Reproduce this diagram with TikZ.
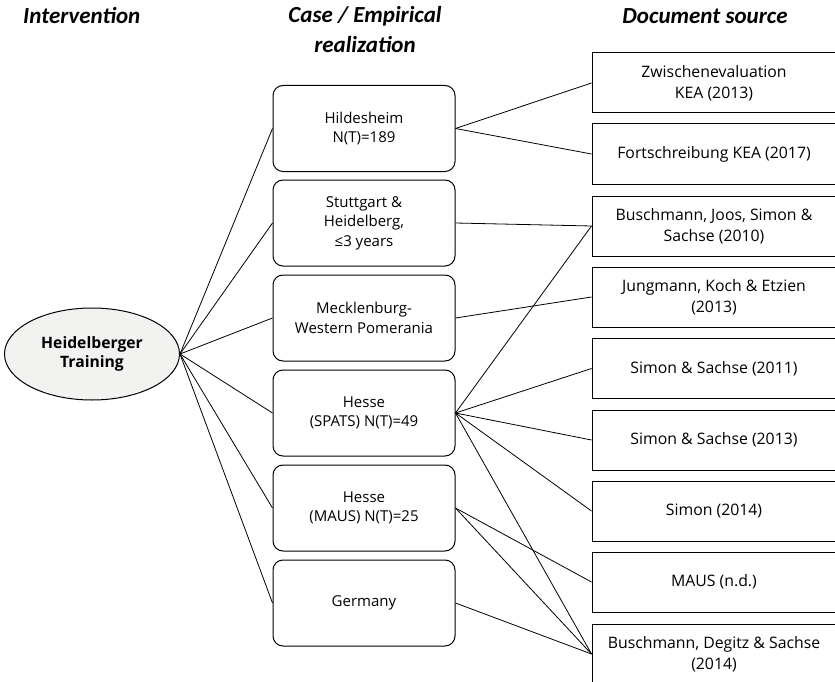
\documentclass[tikz,border=0pt]{standalone}
\usepackage{fontspec}
\setmainfont{Open Sans}
\newfontfamily\headfont{Carlito}
\usetikzlibrary{shapes.geometric}
\definecolor{ellfill}{RGB}{242,243,240}
\tikzstyle{heading} = [font=\headfont\bfseries\itshape\fontsize{23}{30}\selectfont, align=center, inner sep=0pt]
\tikzstyle{intervention} = [ellipse, minimum width=175pt, minimum height=92pt, draw=black, line width=1pt, fill=ellfill, align=center, font=\bfseries\fontsize{15.7}{19}\selectfont]
\tikzstyle{case} = [rectangle, rounded corners=10pt, minimum width=182pt, minimum height=86pt, draw=black, line width=1pt, align=center, font=\fontsize{15}{19.5}\selectfont]
\tikzstyle{source} = [rectangle, minimum width=244pt, minimum height=60pt, draw=black, line width=1pt, align=center, font=\fontsize{15.8}{20.5}\selectfont]
\tikzstyle{link} = [line width=0.8pt]

\begin{document}
\begin{tikzpicture}[x=1pt, y=-1pt]
      \useasboundingbox (0,0) rectangle (835,682);

      % Column headings
      \node (hint) [heading, anchor=west] at (23,16) {Intervention};
      \node (hcase) [heading] at (365,30) {Case / Empirical\\realization};
      \node (hsrc) [heading] at (705,16) {Document source};

      \node (heid) [intervention] at (92,354) {Heidelberger\\Training};

      % Cases
      \node (hild) [case] at (364,128.5) {Hildesheim\\N(T)=189};
      \node (stutt) [case] at (364,223) {Stuttgart \&\\Heidelberg,\\≤3 years};
      \node (meck) [case] at (364,318) {Mecklenburg-\\Western Pomerania};
      \node (spats) [case] at (364,413) {Hesse\\(SPATS) N(T)=49};
      \node (maus) [case] at (364,508) {Hesse\\(MAUS) N(T)=25};
      \node (germ) [case] at (364,603) {Germany};

      % Document sources
      \node (zwis) [source] at (714,83) {Zwischenevaluation\\KEA (2013)};
      \node (fort) [source] at (714,154) {Fortschreibung KEA (2017)};
      \node (bjss) [source] at (714,226) {Buschmann, Joos, Simon \&\\Sachse (2010)};
      \node (jung) [source] at (714,297) {Jungmann, Koch \& Etzien\\(2013)};
      \node (ss11) [source] at (714,368.5) {Simon \& Sachse (2011)};
      \node (ss13) [source] at (714,440) {Simon \& Sachse (2013)};
      \node (sim14) [source] at (714,511) {Simon (2014)};
      \node (mausnd) [source] at (714,582) {MAUS (n.d.)};
      \node (bds) [source] at (714,654) {Buschmann, Degitz \& Sachse\\(2014)};

      % Lines
      \draw [link] (heid.east) -- (hild.west);
      \draw [link] (heid.east) -- (stutt.west);
      \draw [link] (heid.east) -- (meck.west);
      \draw [link] (heid.east) -- (spats.west);
      \draw [link] (heid.east) -- (maus.west);
      \draw [link] (heid.east) -- (germ.west);

      \draw [link] (hild.east) -- (zwis.west);
      \draw [link] (hild.east) -- (fort.west);
      \draw [link] (stutt.east) -- (bjss.west);
      \draw [link] (meck.east) -- (jung.west);
      \draw [link] (spats.east) -- (bjss.west);
      \draw [link] (spats.east) -- (ss11.west);
      \draw [link] (spats.east) -- (ss13.west);
      \draw [link] (spats.east) -- (sim14.west);
      \draw [link] (spats.east) -- (bds.west);
      \draw [link] (maus.east) -- (mausnd.west);
      \draw [link] (maus.east) -- (bds.west);
      \draw [link] (germ.east) -- (bds.west);

\end{tikzpicture}
\end{document}
